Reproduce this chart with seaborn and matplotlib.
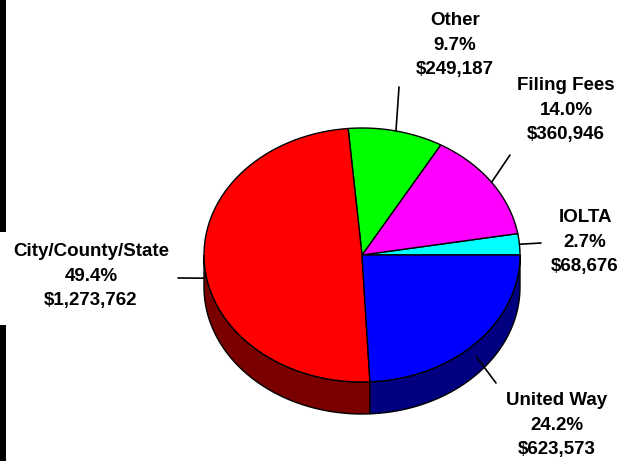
import numpy as np
import matplotlib
matplotlib.use("Agg")
import matplotlib.pyplot as plt
from matplotlib.patches import Polygon, Rectangle
import seaborn as sns

# data, counterclockwise from 3 o'clock
labels = ["IOLTA", "Filing Fees", "Other", "City/County/State", "United Way"]
amounts = [68676, 360946, 249187, 1273762, 623573]
percents = [2.7, 14.0, 9.7, 49.4, 24.2]

top_colors = ["#00FFFF", "#FF00FF", "#00FF00", "#FF0000", "#0000FF"]
side_colors = ["#008080", "#800080", "#008000", "#7A0000", "#000080"]

# layout in pixels
cx, cy, rx, ry, depth = 362, 255, 158, 127, 32
label_pos = [(585, 242), (566, 110), (455, 45), (91, 276), (557, 425)]
line_end = [(541, 243), (510, 155), (399, 87), (178, 278), (496, 383)]

sns.set_theme(style="white")
plt.rcParams["font.family"] = ["Liberation Sans", "DejaVu Sans"]

fig = plt.figure(figsize=(6.26, 4.61), dpi=100)
ax = fig.add_axes([0, 0, 1, 1])
ax.set_xlim(0, 626)
ax.set_ylim(461, 0)
ax.axis("off")

frac = np.array(percents) / sum(percents)
edges = np.concatenate([[0], np.cumsum(frac)]) * 360


def pt(a, dz=0.0):
    r = np.radians(a)
    return cx + rx * np.cos(r), cy - ry * np.sin(r) + dz


# side walls (front half only)
for i in range(len(labels)):
    a1, a2 = max(edges[i], 180), min(edges[i + 1], 360)
    if a2 <= a1:
        continue
    t = np.linspace(a1, a2, 80)
    topp = [pt(a) for a in t]
    bot = [pt(a, depth) for a in t[::-1]]
    ax.add_patch(Polygon(topp + bot, closed=True, fc=side_colors[i],
                         ec="black", lw=1, zorder=1))

# top surface
for i in range(len(labels)):
    t = np.linspace(edges[i], edges[i + 1], 120)
    verts = [(cx, cy)] + [pt(a) for a in t]
    ax.add_patch(Polygon(verts, closed=True, fc=top_colors[i],
                         ec="black", lw=1, zorder=2))

# leader lines and labels
for i in range(len(labels)):
    mid = (edges[i] + edges[i + 1]) / 2
    dz = depth * 0.45 if 180 < mid < 360 else 0
    x0, y0 = pt(mid, dz)
    x1, y1 = line_end[i]
    ax.plot([x0, x1], [y0, y1], color="black", lw=1.2, zorder=3)
    txt = f"{labels[i]}\n{percents[i]:.1f}%\n${amounts[i]:,}"
    ax.text(label_pos[i][0], label_pos[i][1], txt, ha="center", va="center",
            fontsize=13.5, fontweight="bold", linespacing=1.55, color="black")

# black bars at left edge
ax.add_patch(Rectangle((0, 0), 6, 232, fc="black", ec="none"))
ax.add_patch(Rectangle((0, 325), 6, 136, fc="black", ec="none"))

fig.savefig("out.png", dpi=100)
